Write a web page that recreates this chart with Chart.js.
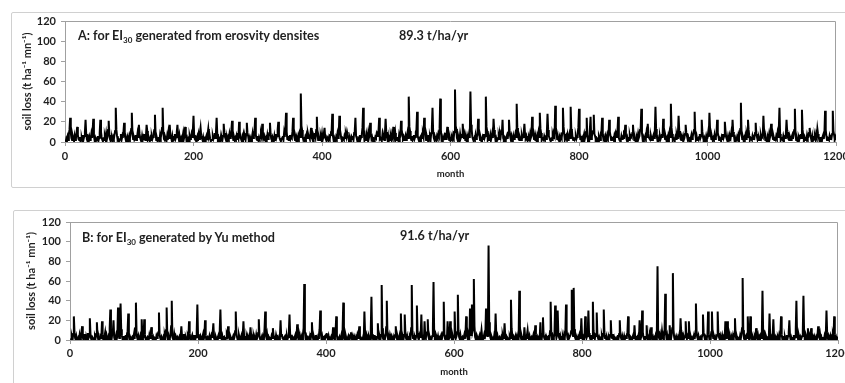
<!DOCTYPE html>
<html><head><meta charset="utf-8">
<script src="https://cdn.jsdelivr.net/npm/chart.js@4.4.1/dist/chart.umd.min.js"></script>
<style>
html,body{margin:0;padding:0;background:#fff;}
body{width:845px;height:383px;overflow:hidden;position:relative;font-family:Lato,"Open Sans",sans-serif;color:#1f1f1f}
.frame{position:absolute;border:1px solid #d0d0d0;border-radius:2px;box-sizing:border-box}
.cv{position:absolute;left:0}
.lab{position:absolute;font-weight:bold;font-size:12.6px;white-space:nowrap;line-height:14px}
.lab sub{font-size:8px;vertical-align:-3px;line-height:0}
</style></head><body>
<div class="frame" style="left:11px;top:12px;width:850px;height:176px"></div>
<div class="frame" style="left:13px;top:210px;width:850px;height:200px"></div>
<canvas id="cA" class="cv" width="870" height="200" style="top:0"></canvas>
<canvas id="cB" class="cv" width="870" height="183" style="top:200px"></canvas>
<div class="lab" style="left:78px;top:29px">A: for EI<sub>30</sub> generated from erosvity densites</div>
<div class="lab" style="left:399px;top:29px">89.3 t/ha/yr</div>
<div class="lab" style="left:82px;top:231px">B: for EI<sub>30</sub> generated by Yu method</div>
<div class="lab" style="left:400px;top:229px">91.6 t/ha/yr</div>
<script>
// Monthly soil loss (t ha-1 mn-1), one row of 12 months per simulated year (100 years = 1200 months)
const lossA = [
[0,3,1,5,2,8,12,24,9,4,2,6],[3,1,6,2,4,9,15,7,3,2,5,1],[2,4,1,7,3,6,10,22,8,3,1,4],[1,5,2,3,8,4,11,23,6,2,4,1],
[3,2,6,1,4,9,22,10,5,2,1,3],[2,6,3,8,2,5,12,21,7,3,1,2],[4,1,5,3,7,11,34,12,6,2,3,1],[2,3,8,2,5,9,10,19,6,4,1,3],
[1,4,2,6,3,8,13,29,9,3,5,2],[3,7,2,4,9,5,17,8,4,2,1,6],[2,5,3,8,2,6,17,11,3,5,2,1],[4,2,6,3,5,9,12,27,8,2,4,1],
[2,5,1,7,4,8,14,34,10,3,2,5],[3,1,6,2,9,4,17,7,5,2,6,1],[2,4,8,3,5,10,17,6,3,7,2,1],[4,2,5,9,3,6,15,8,2,4,1,3],
[1,6,3,4,8,5,11,26,7,3,2,4],[2,5,1,7,3,9,14,6,4,2,5,1],[3,1,4,6,2,8,13,5,7,3,1,2],[2,6,3,5,9,4,10,24,8,2,4,1],
[3,2,7,4,2,6,18,9,5,3,1,4],[1,5,3,8,4,7,12,21,6,2,5,2],[4,2,6,3,9,5,20,10,4,3,1,5],[2,7,3,5,2,8,19,9,6,2,4,1],
[3,1,5,9,4,6,11,24,7,3,2,6],[2,5,3,4,8,5,18,10,4,6,2,1],[4,2,7,3,5,9,19,8,3,2,5,3],[1,6,2,8,4,6,12,20,7,4,2,1],
[3,4,6,2,9,5,13,29,10,3,6,2],[2,7,3,5,4,10,24,9,5,2,4,1],[4,2,6,3,8,5,48,16,12,5,2,3],[2,5,3,7,4,9,6,5,3,8,14,4],
[3,1,6,4,9,5,12,25,7,2,5,2],[2,6,3,8,2,5,9,14,4,3,1,5],[4,2,5,3,7,10,11,28,6,2,4,1],[1,5,3,8,4,6,26,12,8,3,2,4],
[3,2,6,4,8,5,10,7,4,2,5,1],[2,5,3,6,2,9,11,24,6,4,1,3],[4,1,7,3,5,8,14,34,9,2,6,2],[2,6,3,9,4,7,19,8,3,5,2,1],
[3,2,5,4,8,6,10,11,24,3,4,2],[1,7,3,5,2,9,23,10,5,2,6,1],[4,2,6,3,8,5,15,7,4,9,2,3],[2,5,1,7,4,6,21,12,8,3,5,2],
[3,6,2,5,9,4,45,15,11,4,2,6],[2,4,7,3,5,10,12,30,6,3,1,4],[5,2,6,4,8,5,24,11,9,2,6,3],[1,7,3,5,2,9,14,34,10,4,2,5],
[3,2,6,4,8,6,13,43,12,3,5,2],[4,6,2,9,3,7,15,8,5,2,4,1],[2,5,3,7,4,10,52,16,13,4,2,6],[3,2,8,4,6,5,18,9,3,7,2,4],
[1,6,3,5,9,4,50,17,12,5,3,2],[4,2,7,3,5,8,23,10,6,2,4,1],[2,5,3,8,4,6,45,15,11,3,6,2],[3,7,2,5,9,4,23,12,7,2,4,1],
[2,4,6,3,8,5,10,9,22,4,2,5],[4,2,5,7,3,9,22,11,5,2,6,3],[1,6,3,4,8,5,38,14,10,3,2,5],[3,2,7,4,5,9,18,8,4,6,2,1],
[2,5,3,8,4,6,25,11,7,3,5,2],[4,1,6,3,9,5,29,13,9,2,4,3],[2,6,4,5,3,10,28,12,6,4,2,1],[3,2,7,4,8,6,36,14,10,3,5,2],
[1,5,3,6,4,9,34,15,8,2,4,6],[3,7,2,5,8,4,35,13,11,4,2,3],[2,4,6,3,5,9,14,33,9,3,6,1],[4,2,5,8,3,6,10,24,5,2,4,2],
[2,25,3,5,9,11,27,8,6,3,4,2],[3,1,6,4,2,9,11,24,7,3,5,2],[1,5,3,7,4,8,22,10,6,2,4,3],[4,2,6,3,8,5,10,12,25,4,2,1],
[2,6,3,5,4,9,8,17,6,3,5,2],[3,2,7,4,6,5,9,17,8,2,4,1],[1,5,3,8,4,6,12,14,33,9,3,5],[2,4,6,3,9,5,18,8,4,3,2,6],
[3,2,5,7,4,10,35,13,6,2,4,1],[2,6,3,5,8,4,23,10,7,3,5,2],[4,1,6,3,9,5,38,14,8,2,4,3],[2,5,3,7,4,8,26,11,6,3,2,5],
[3,6,2,4,8,17,9,6,3,5,2,1],[1,4,7,3,5,9,12,30,8,3,6,2],[3,2,5,8,4,6,22,10,5,2,4,1],[2,6,3,4,9,5,29,12,7,3,5,2],
[4,2,7,3,5,8,22,9,6,2,4,3],[1,5,3,8,4,6,20,11,5,3,2,6],[3,2,6,4,9,5,22,10,7,2,4,1],[2,5,3,7,4,8,13,39,9,3,5,2],
[4,1,6,3,8,5,22,12,6,2,4,3],[2,6,3,5,4,9,19,8,5,3,2,5],[3,2,7,4,6,5,26,11,7,2,4,1],[1,5,3,8,4,7,18,9,6,3,5,2],
[3,2,6,4,9,5,13,34,8,2,4,3],[2,6,3,5,4,8,22,10,5,3,2,6],[4,2,5,7,3,9,12,33,7,2,4,1],[1,5,3,6,8,4,32,12,6,3,5,2],
[3,2,7,4,5,9,14,7,4,2,6,1],[2,4,6,3,8,5,13,8,5,3,2,4],[4,1,5,7,3,9,31,12,6,2,4,3],[2,6,3,5,4,8,31,11,7,3,5,2]
];
const lossB = [
[0,1,3,0,6,24,8,2,0,4,1,0],[2,0,5,1,3,9,14,3,0,2,6,1],[0,3,1,7,2,4,22,6,1,0,3,2],[1,0,4,2,6,18,5,1,3,0,2,4],
[3,19,6,1,0,4,8,2,5,1,0,3],[0,12,31,4,1,6,9,20,3,0,2,5],[1,4,33,8,2,3,37,11,5,1,0,4],[0,2,5,1,6,9,27,4,0,3,1,2],
[3,0,2,6,1,12,38,7,2,0,4,1],[0,4,1,21,5,2,3,21,6,1,0,2],[3,1,0,5,2,4,13,6,1,3,0,2],[1,0,4,2,6,8,28,5,2,0,3,1],
[0,3,1,5,2,10,33,6,1,4,0,2],[5,14,40,3,1,0,6,2,4,1,0,3],[2,0,3,1,5,14,4,0,2,6,1,0],[3,1,0,4,2,19,7,1,0,3,5,1],
[0,2,5,1,3,9,36,6,2,0,1,4],[2,0,3,6,1,4,20,5,0,2,3,1],[0,4,1,2,5,3,8,17,2,0,1,3],[1,0,3,5,2,11,31,6,1,4,0,2],
[3,1,0,2,6,4,14,5,2,0,3,1],[0,2,4,1,3,9,29,7,3,0,1,5],[2,0,3,5,1,6,19,4,0,2,1,3],[0,3,1,4,2,13,5,1,3,0,4,1],
[2,0,5,1,3,7,21,5,1,0,2,4],[0,3,1,12,29,5,2,6,1,3,0,2],[1,0,4,2,12,5,3,1,0,5,2,1],[3,1,0,5,20,4,6,2,1,0,3,4],
[0,2,4,1,3,10,26,5,2,0,1,3],[2,0,3,5,1,4,16,6,0,2,4,1],[0,3,1,6,12,57,9,2,4,0,1,3],[2,0,4,1,6,18,5,1,3,0,2,5],
[1,3,0,2,5,11,30,6,1,4,0,2],[3,0,2,5,7,3,1,4,0,2,1,3],[0,2,13,4,1,3,9,24,5,0,2,1],[3,0,2,5,1,12,38,6,2,0,4,1],
[0,2,4,1,3,5,8,2,0,3,1,4],[2,0,3,1,5,2,6,14,4,0,2,1],[0,3,1,29,8,2,5,1,3,0,4,2],[1,12,44,6,2,0,3,5,1,4,0,3],
[17,4,1,3,0,5,56,12,2,0,3,1],[4,13,40,6,1,3,0,5,2,4,1,0],[3,0,2,5,14,4,1,3,0,2,5,1],[27,6,1,3,0,5,26,7,2,0,4,1],
[2,0,3,1,12,56,9,2,5,0,3,1],[4,35,8,2,0,5,3,6,26,4,1,3],[0,19,5,2,6,8,21,4,1,3,0,2],[1,4,12,59,9,2,5,0,3,1,4,0],
[2,0,3,5,1,4,8,39,6,1,0,3],[2,19,5,1,3,19,6,2,0,4,1,3],[29,7,2,4,8,46,10,3,1,5,0,2],[3,0,2,5,1,7,24,6,2,0,4,1],
[32,8,5,36,9,12,62,14,3,1,4,0],[2,0,3,5,1,4,10,3,0,2,5,1],[6,32,8,4,12,96,18,5,2,0,3,1],[2,0,5,3,27,6,1,4,0,2,3,1],
[0,3,1,5,2,4,17,5,1,3,0,2],[1,0,4,2,41,12,5,1,3,0,2,4],[0,3,1,5,2,50,14,4,1,3,0,2],[1,13,4,0,2,5,10,3,1,4,0,2],
[3,0,2,5,1,4,15,6,1,3,0,2],[0,4,18,3,1,6,23,5,2,0,3,1],[2,0,3,5,1,9,39,8,2,4,0,3],[6,35,8,2,5,30,7,3,1,4,0,2],
[1,3,0,5,2,8,36,10,3,0,4,2],[2,5,9,51,8,4,53,11,3,1,4,2],[0,3,1,5,2,6,22,5,1,3,0,4],[24,6,2,4,9,30,7,3,1,5,0,2],
[39,10,3,1,5,4,28,6,2,0,3,1],[2,0,4,1,6,31,8,2,5,0,3,1],[0,3,1,5,20,4,2,6,1,3,0,2],[2,0,3,5,1,6,20,5,2,0,4,1],
[0,4,1,3,2,5,8,24,5,1,0,3],[2,0,3,5,1,15,4,0,2,3,1,4],[1,20,6,2,5,30,8,3,1,4,0,2],[15,4,1,3,0,5,2,13,4,1,3,0],
[2,0,4,1,12,75,9,3,1,5,0,2],[9,3,1,4,10,47,8,2,5,0,3,1],[15,4,1,5,12,68,10,3,0,2,4,1],[0,3,1,5,2,22,8,1,3,0,4,2],
[3,19,5,1,4,2,19,6,1,3,0,2],[0,2,5,1,6,37,9,3,1,4,0,2],[3,0,2,5,26,8,4,1,3,0,2,5],[29,6,1,3,0,8,29,7,2,4,1,3],
[0,2,5,29,7,3,1,4,0,2,5,1],[3,0,2,19,6,1,19,8,2,0,4,1],[0,3,1,5,2,6,22,5,1,3,0,2],[2,0,4,1,5,12,63,10,2,0,3,1],
[4,2,24,5,1,7,24,6,2,0,3,1],[0,3,1,12,4,2,5,1,3,0,4,2],[6,50,10,2,4,1,5,3,0,2,1,4],[27,5,1,3,0,6,21,4,1,3,0,2],
[0,3,1,5,2,7,24,6,1,4,0,2],[3,0,2,5,1,4,8,20,4,0,3,1],[0,2,5,1,3,11,40,6,2,0,4,1],[3,0,2,4,9,45,8,2,5,0,3,1],
[12,3,1,4,2,12,5,0,3,1,4,2],[0,3,1,5,14,4,2,6,1,3,0,2],[2,0,4,1,6,30,8,2,0,3,1,4],[0,3,1,5,2,24,6,1,3,0,2,1]
];
const xTicks = [0,200,400,600,800,1000,1200];
const yTicks = [0,20,40,60,80,100,120];
const xTitle = 'month';
const yTitle = 'soil loss (t ha\u207B\u00B9 mn\u207B\u00B9)';

const TXT = '#1f1f1f', AX = '#a0a0a0';
const fontFam = 'Lato, "Open Sans", sans-serif';

function toPoints(rows){
  const pts = [];
  rows.forEach((row, yi) => row.forEach((v, mi) => pts.push({x: yi*12 + mi + 1, y: v})));
  return pts;
}

const plotBorder = {
  id: 'plotBorder',
  beforeDatasetsDraw(chart){
    const {ctx, chartArea: a} = chart;
    ctx.save();
    ctx.strokeStyle = AX; ctx.lineWidth = 1;
    ctx.beginPath();
    ctx.moveTo(a.left + 0.5, a.bottom); ctx.lineTo(a.left + 0.5, a.top + 0.5);
    ctx.lineTo(a.right - 0.5, a.top + 0.5); ctx.lineTo(a.right - 0.5, a.bottom);
    ctx.stroke();
    ctx.restore();
  }
};

function makeChart(id, rows, o){
  return new Chart(document.getElementById(id), {
    type: 'line',
    data: { datasets: [{ data: toPoints(rows), borderColor: '#000', borderWidth: 2, pointRadius: 0, tension: 0, fill: false }] },
    options: {
      responsive: false, animation: false, events: [],
      layout: { padding: { top: o.padTop, right: o.padRight, left: 0, bottom: 0 } },
      plugins: { legend: { display: false }, tooltip: { enabled: false } },
      scales: {
        x: {
          type: 'linear', min: 0, max: 1200,
          afterBuildTicks: s => { s.ticks = xTicks.map(v => ({ value: v })); },
          afterFit: s => { s.height = o.xH; },
          ticks: { color: TXT, font: { family: fontFam, weight: 'bold', size: 11 }, padding: o.xTickPad, maxRotation: 0, autoSkip: false,
                   callback: v => String(v) },
          grid: { display: true, drawOnChartArea: false, drawTicks: true, tickLength: 4, color: AX },
          border: { display: true, color: AX },
          title: { display: true, text: xTitle, color: TXT, font: { family: fontFam, weight: 'bold', size: 9.5 }, padding: { top: 0, bottom: o.xTitlePad } }
        },
        y: {
          min: 0, max: 120,
          afterBuildTicks: s => { s.ticks = yTicks.map(v => ({ value: v })); },
          afterFit: s => { s.width = o.yW; },
          ticks: { color: TXT, font: { family: fontFam, weight: 'bold', size: 11 }, padding: 5, callback: v => String(v) },
          grid: { display: true, drawOnChartArea: false, drawTicks: true, tickLength: 4, color: AX },
          border: { display: true, color: AX },
          title: { display: true, text: yTitle, color: TXT, font: { family: fontFam, weight: 'bold', size: 11 }, padding: { top: o.yTitlePad, bottom: 0 } }
        }
      }
    },
    plugins: [plotBorder]
  });
}

makeChart('cA', lossA, { padTop: 21, padRight: 34, xH: 58, yW: 65, xTickPad: 4, xTitlePad: 20, yTitlePad: 21 });
makeChart('cB', lossB, { padTop: 22, padRight: 32, xH: 43, yW: 70, xTickPad: 3, xTitlePad: 5, yTitlePad: 25 });
</script>
</body></html>
